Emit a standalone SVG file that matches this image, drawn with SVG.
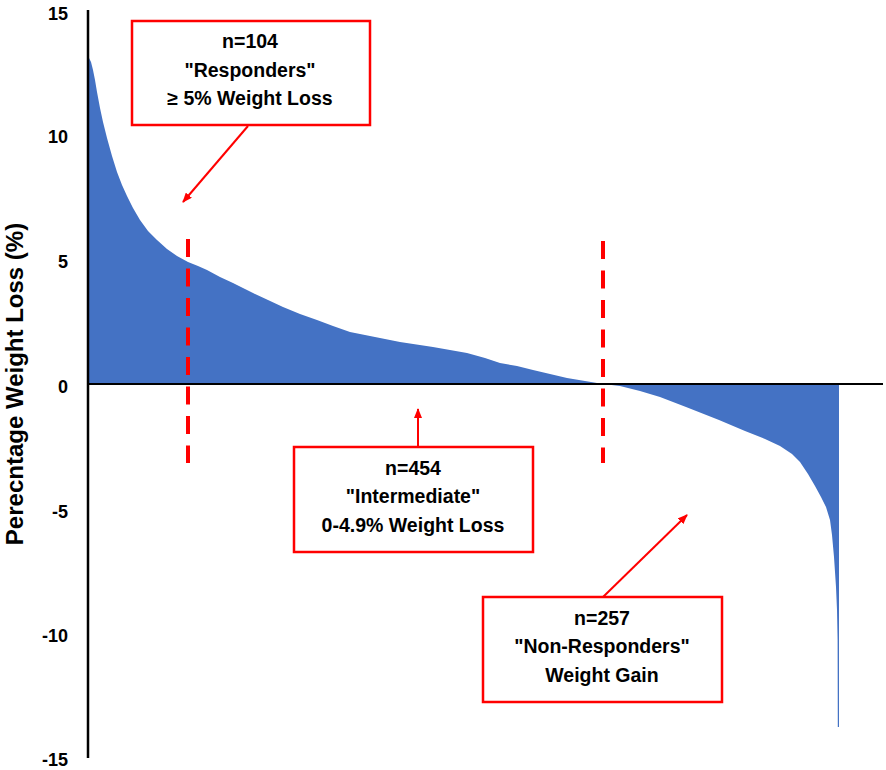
<svg xmlns="http://www.w3.org/2000/svg" width="886" height="770" viewBox="0 0 886 770">
<style>
.tick{font-family:"Liberation Sans",Arial,sans-serif;font-weight:bold;font-size:18px;fill:#000;text-anchor:end}
.title{font-family:"Liberation Sans",Arial,sans-serif;font-weight:bold;font-size:24px;fill:#000;text-anchor:middle}
.lbl{font-family:"Liberation Sans",Arial,sans-serif;font-weight:bold;font-size:19.5px;fill:#000;text-anchor:middle}
.box{fill:#fff;stroke:#ff0000;stroke-width:2.5}
.arrow{stroke:#ff0000;stroke-width:2;fill:none;marker-end:url(#ah)}
.dash{stroke:#ff0000;stroke-width:4;stroke-dasharray:18 11.5;fill:none}
.axis{stroke:#000;stroke-width:2.5;fill:none}
</style>
<defs>
<marker id="ah" viewBox="0 0 10 8" refX="9" refY="4" markerWidth="10" markerHeight="8" markerUnits="userSpaceOnUse" orient="auto">
<path d="M0,0 L10,4 L0,8 Z" fill="#ff0000"/>
</marker>
</defs>
<rect width="886" height="770" fill="#fff"/>
<g id="area">
<path fill="#4472C4" d="M89,384 L89,58 L91,62 L93,70 L95,80 L97,92 L100,108 L103,122 L107,138 L112,156 L117,172 L122,185 L127,196 L133,208 L140,220 L148,231 L157,240 L167,249 L177,256 L188,262 L198,266 L207,270 L220,277 L233,283 L245,289 L253,293 L268,300 L283,307 L300,314 L317,320 L333,326 L350,332 L375,337 L400,342 L433,347 L467,353 L485,358 L500,363 L517,366 L533,370 L550,374 L567,378 L585,381 L603,384 L620,386 L640,391 L660,397 L686,407 L719,420 L745,431 L765,439 L780,446 L792,454 L800,462 L808,474 L815,486 L821,497 L826,507 L830,520 L832,535 L834,557 L836,587 L837,610 L837.6,640 L837.8,727 L839,727 L839,384 Z"/>
</g>
<g id="axes">
<line class="axis" x1="88" y1="10" x2="88" y2="758"/>
<line x1="88" y1="384" x2="883" y2="384" stroke="#000" stroke-width="2"/>
<text class="tick" x="68" y="20">15</text>
<text class="tick" x="68" y="143">10</text>
<text class="tick" x="68" y="268">5</text>
<text class="tick" x="68" y="393">0</text>
<text class="tick" x="68" y="518">-5</text>
<text class="tick" x="68" y="642">-10</text>
<text class="tick" x="68" y="766">-15</text>
<text class="title" transform="translate(23,384) rotate(-90)">Perecntage Weight Loss (%)</text>
</g>
<g id="connectors">
<line class="dash" x1="188" y1="239" x2="188" y2="463"/>
<line class="dash" x1="603" y1="241" x2="603" y2="463"/>
<line class="arrow" x1="248" y1="126" x2="183" y2="202"/>
<line class="arrow" x1="418" y1="447" x2="418" y2="409"/>
<line class="arrow" x1="603" y1="597" x2="687" y2="515"/>
</g>
<g id="responders">
<rect class="box" x="132" y="21" width="238" height="104"/>
<text class="lbl" x="250" y="48">n=104</text>
<text class="lbl" x="250" y="77">"Responders"</text>
<text class="lbl" x="250" y="105">≥ 5% Weight Loss</text>
</g>
<g id="intermediate">
<rect class="box" x="294" y="447" width="239" height="105"/>
<text class="lbl" x="413" y="475">n=454</text>
<text class="lbl" x="413" y="503">"Intermediate"</text>
<text class="lbl" x="413" y="532">0-4.9% Weight Loss</text>
</g>
<g id="nonresponders">
<rect class="box" x="483" y="597" width="239" height="105"/>
<text class="lbl" x="602" y="625">n=257</text>
<text class="lbl" x="602" y="653">"Non-Responders"</text>
<text class="lbl" x="602" y="682">Weight Gain</text>
</g>
</svg>
